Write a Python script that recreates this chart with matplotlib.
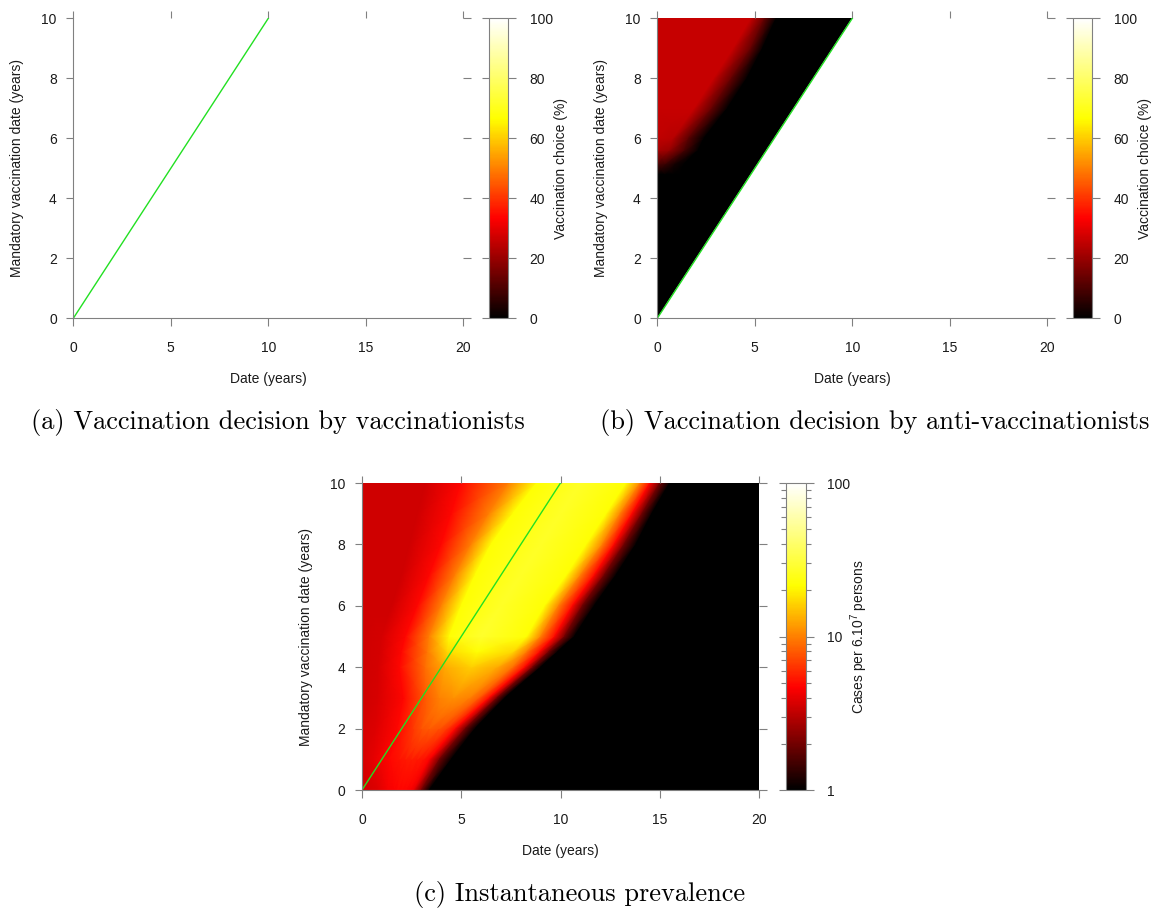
import matplotlib
matplotlib.use("Agg")
import matplotlib.pyplot as plt
from matplotlib.colors import LinearSegmentedColormap, LogNorm, Normalize
from matplotlib.patches import Polygon
from matplotlib.ticker import NullFormatter

plt.rcParams['font.family'] = ['Liberation Sans', 'DejaVu Sans']
plt.rcParams['mathtext.default'] = 'regular'

##########################################################
#  Figure constants                                      #
##########################################################

FIG_W, FIG_H = 1156, 914  # output size in pixels (dpi 100)
AXIS_GRAY = "#808080"
TEXT_COLOR = "#1a1a1a"
LINE_GREEN = "#22e022"
TICK_LEN = 5.4  # points

# black -> red -> yellow -> white, same scale used on every panel
HEAT = LinearSegmentedColormap.from_list(
    "heat", [(0.0, "black"), (1 / 3, "red"), (2 / 3, "yellow"), (1.0, "white")]
)

##########################################################
#  Data                              #
#  Each surface is given row by row (one row per          #
#  mandatory vaccination date); inside a row the dates    #
#  follow the colour features so they line up diagonally  #
##########################################################

# line where the mandatory vaccination date equals the date
diag_date = [0, 10]
diag_mandatory = [0, 10]

# (a) vaccinationists: everybody vaccinates before the mandatory date
vacc_mandatory = [0, 10]
vacc_date = [
    [0, 10],
    [0, 10],
]
vacc_choice = [
    [100, 100],
    [100, 100],
]

# (b) anti-vaccinationists, vaccination choice (%)
anti_mandatory = [0, 4.8, 5.15, 5.6, 6, 7, 8, 9, 10]
anti_date = [
    [0, 0.1, 0.2, 0.3, 10],
    [0, 0.4, 0.8, 1.2, 10],
    [0, 0.4, 0.9, 1.4, 10],
    [0, 0.6, 1.4, 2.1, 10],
    [0, 0.8, 1.6, 2.4, 10],
    [0, 1.9, 2.8, 3.6, 10],
    [0, 2.9, 3.8, 4.6, 10],
    [0, 3.9, 4.8, 5.4, 10],
    [0, 4.8, 5.5, 6.1, 10],
]
anti_choice = [
    [0, 0, 0, 0, 0],
    [0, 0, 0, 0, 0],
    [10, 8, 3, 0, 0],
    [22, 20, 9, 0, 0],
    [25, 24, 12, 0, 0],
    [26, 26, 13, 0, 0],
    [26, 26, 13, 0, 0],
    [26, 26, 13, 0, 0],
    [26, 26, 13, 0, 0],
]

# (c) instantaneous prevalence, cases per 6.10^7 persons
prev_mandatory = [0, 1, 2, 3, 4, 4.5, 5, 6, 7, 8, 9, 10]
prev_date = [
    [0, 0.8, 1.3, 1.6, 1.8, 2.0, 2.2, 2.4, 2.6, 3.0, 3.4, 20],
    [0, 0.6, 1.4, 1.9, 2.2, 2.5, 2.8, 3.1, 3.4, 3.9, 4.5, 20],
    [0, 0.7, 1.8, 2.6, 3.0, 3.4, 3.9, 4.3, 4.7, 5.2, 5.7, 20],
    [0, 0.8, 2.1, 3.2, 3.9, 4.6, 5.4, 5.9, 6.4, 6.8, 7.2, 20],
    [0, 0.8, 1.9, 3.2, 4.2, 5.5, 6.8, 7.6, 8.2, 8.6, 9.0, 20],
    [0, 0.9, 2.0, 3.3, 4.3, 5.8, 7.6, 8.3, 8.95, 9.4, 9.85, 20],
    [0, 1.0, 2.2, 3.4, 4.4, 6.0, 8.3, 9.0, 9.7, 10.2, 10.7, 20],
    [0, 1.5, 2.8, 4.0, 5.0, 7.0, 9.2, 9.9, 10.6, 11.1, 11.7, 20],
    [0, 2.0, 3.4, 4.7, 5.7, 8.0, 10.3, 11.0, 11.7, 12.2, 12.8, 20],
    [0, 2.4, 4.0, 5.5, 6.5, 9.0, 11.3, 12.1, 12.7, 13.2, 13.8, 20],
    [0, 2.8, 4.5, 6.4, 7.6, 10.0, 12.3, 13.0, 13.6, 14.1, 14.6, 20],
    [0, 3.2, 5.0, 7.4, 8.8, 11.0, 13.3, 14.0, 14.5, 15.0, 15.5, 20],
]
prevalence = [
    [3.5, 3.8, 4.4, 4.6, 4.7, 4.7, 4.7, 4.6, 4.2, 2.0, 0.9, 0.9],
    [3.6, 4.0, 4.8, 5.2, 5.4, 5.5, 5.4, 5.2, 4.6, 2.0, 0.9, 0.9],
    [3.6, 3.8, 4.8, 6.5, 7.5, 8.0, 7.5, 6.5, 4.8, 2.0, 0.9, 0.9],
    [3.5, 3.7, 4.8, 8.0, 10, 11, 10, 8.0, 4.8, 2.0, 0.9, 0.9],
    [3.5, 3.6, 4.8, 9.0, 13, 16, 13, 9.0, 4.8, 2.0, 0.9, 0.9],
    [3.5, 3.6, 4.8, 9.5, 17, 22, 17, 9.5, 4.8, 2.0, 0.9, 0.9],
    [3.5, 3.6, 4.8, 10, 22, 28, 22, 10, 4.8, 2.0, 0.9, 0.9],
    [3.5, 3.5, 4.8, 10, 22, 27, 22, 10, 4.8, 2.0, 0.9, 0.9],
    [3.5, 3.5, 4.8, 10, 22, 27, 22, 10, 4.8, 2.0, 0.9, 0.9],
    [3.5, 3.5, 4.8, 10, 22, 27, 22, 10, 4.8, 2.0, 0.9, 0.9],
    [3.5, 3.5, 4.8, 10, 22, 27, 22, 10, 4.8, 2.0, 0.9, 0.9],
    [3.5, 3.5, 4.8, 10, 22, 27, 22, 10, 4.8, 2.0, 0.9, 0.9],
]

X_TICKS = [0, 5, 10, 15, 20]
Y_TICKS = [0, 2, 4, 6, 8, 10]

###########################################################
#  Helpers                                                #
###########################################################


def px_rect(left, top, width, height):
    """Pixel box (from the top left corner) -> figure fraction rect."""
    return [left / FIG_W, 1 - (top + height) / FIG_H, width / FIG_W, height / FIG_H]


def draw_surface(ax, dates, mandatory, values, norm):
    """Smooth surface on a curvilinear grid: one row of dates per mandatory date."""
    rows = [[m] * len(r) for m, r in zip(mandatory, dates)]
    return ax.pcolormesh(dates, rows, values, shading="gouraud", cmap=HEAT, norm=norm)


def style_axes(ax, height_px, width_px):
    ax.set_xlim(0, 20)
    ax.set_ylim(0, 10)
    ax.set_xticks(X_TICKS)
    ax.set_yticks(Y_TICKS)
    for side in ("top", "right"):
        ax.spines[side].set_visible(False)
    for side in ("left", "bottom"):
        ax.spines[side].set_color(AXIS_GRAY)
        ax.spines[side].set_linewidth(0.8)
    ax.tick_params(direction="out", length=TICK_LEN, width=0.8, color=AXIS_GRAY,
                   labelcolor=TEXT_COLOR, labelsize=10, top=True, right=True)
    ax.tick_params(axis="x", pad=11)
    ax.tick_params(axis="y", pad=6.5)
    ax.set_xlabel("Date (years)", fontsize=10, color=TEXT_COLOR)
    ax.set_ylabel("Mandatory vaccination date (years)", fontsize=10, color=TEXT_COLOR)
    ax.xaxis.set_label_coords(0.5, -61 / height_px)
    ax.xaxis.label.set_verticalalignment("center")
    ax.yaxis.set_label_coords(-56 / width_px, 0.5)
    ax.yaxis.label.set_verticalalignment("center")


def add_colorbar(fig, mappable, rect_px, label, ticks, log=False):
    cax = fig.add_axes(px_rect(*rect_px))
    cbar = fig.colorbar(mappable, cax=cax)
    cbar.outline.set_edgecolor(AXIS_GRAY)
    cbar.outline.set_linewidth(0.8)
    cbar.set_ticks(ticks, labels=[str(t) for t in ticks])
    cax.yaxis.set_ticks_position("both")
    cax.tick_params(which="major", direction="out", length=TICK_LEN, width=0.8,
                    color=AXIS_GRAY, labelcolor=TEXT_COLOR, labelsize=10, pad=10,
                    labelleft=False, labelright=True)
    if log:
        cax.yaxis.set_minor_formatter(NullFormatter())
        cax.tick_params(which="minor", direction="out", length=3.6, width=0.8,
                        color=AXIS_GRAY, left=True, right=True)
    cbar.set_label(label, fontsize=10, color=TEXT_COLOR)
    cax.yaxis.set_label_position("right")
    cax.yaxis.set_label_coords(1 + 53 / rect_px[2], 0.5)
    cax.yaxis.label.set_rotation(90)
    cax.yaxis.label.set_verticalalignment("center")
    cax.yaxis.label.set_horizontalalignment("center")
    return cbar


def draw_triangle_panel(fig, rect_px, cbar_px, dates, mandatory, values):
    """Panels (a) and (b): only defined where date <= mandatory date."""
    ax = fig.add_axes(px_rect(*rect_px))
    mesh = draw_surface(ax, dates, mandatory, values, Normalize(0, 100))
    corner = (diag_date[0], diag_mandatory[1])
    tri = Polygon([(diag_date[0], diag_mandatory[0]), corner,
                   (diag_date[1], diag_mandatory[1])],
                  closed=True, transform=ax.transData)
    mesh.set_clip_path(tri)
    ax.plot(diag_date, diag_mandatory, color=LINE_GREEN, lw=1.0)
    style_axes(ax, rect_px[3], rect_px[2])
    add_colorbar(fig, mesh, cbar_px, "Vaccination choice (%)",
                 [0, 20, 40, 60, 80, 100])
    return ax


###########################################################
#  Build the figure                                       #
###########################################################

fig = plt.figure(figsize=(FIG_W / 100, FIG_H / 100), dpi=100)

draw_triangle_panel(fig, (73.3, 18.3, 390, 300), (489.3, 18.3, 19, 300),
                    vacc_date, vacc_mandatory, vacc_choice)
draw_triangle_panel(fig, (657.3, 18.3, 390, 300), (1073.3, 18.3, 19, 300),
                    anti_date, anti_mandatory, anti_choice)

ax_c = fig.add_axes(px_rect(362, 483, 397, 307))
mesh_c = draw_surface(ax_c, prev_date, prev_mandatory, prevalence, LogNorm(1, 100))
ax_c.plot(diag_date, diag_mandatory, color=LINE_GREEN, lw=1.0)
style_axes(ax_c, 307, 397)
add_colorbar(fig, mesh_c, (785.7, 483, 20, 307), "Cases per 6.10$^7$ persons",
             [1, 10, 100], log=True)

# sub-figure captions (LaTeX style serif)
cap_kw = dict(fontsize=19, family="cmr10", ha="center", va="center", color="black")
fig.text(278 / FIG_W, 1 - 423 / FIG_H, "(a) Vaccination decision by vaccinationists", **cap_kw)
fig.text(875 / FIG_W, 1 - 423 / FIG_H, "(b) Vaccination decision by anti-vaccinationists", **cap_kw)
fig.text(580 / FIG_W, 1 - 895 / FIG_H, "(c) Instantaneous prevalence", **cap_kw)

fig.savefig("out.png", dpi=100)
